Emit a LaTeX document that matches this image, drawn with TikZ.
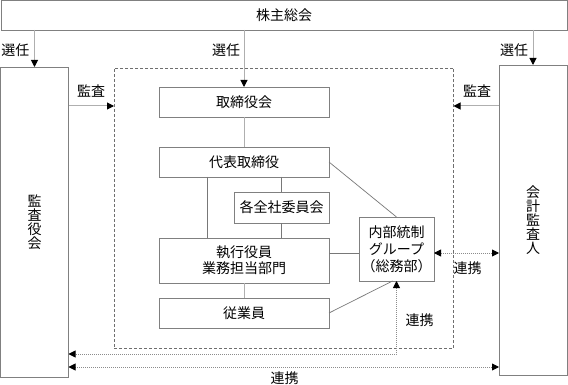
\documentclass[tikz,border=0pt]{standalone}
\usepackage{fontspec}
\setmainfont{Noto Sans CJK JP}
\usetikzlibrary{arrows.meta,calc}
\definecolor{boxgray}{RGB}{128,128,128}
\definecolor{lngray}{RGB}{120,120,120}
\definecolor{lightgray2}{RGB}{175,175,175}
\definecolor{dotgray}{RGB}{140,140,140}
\definecolor{dashgray}{RGB}{110,110,110}
\tikzset{
  box/.style={draw=boxgray, line width=0.9pt, fill=white, inner sep=0pt, outer sep=0pt, align=center, font=\fontsize{14}{18}\selectfont},
  lab/.style={inner sep=0pt, font=\fontsize{14}{16}\selectfont},
  ln/.style={draw=lngray, line width=0.7pt},
  lnl/.style={draw=lightgray2, line width=1pt},
  arr/.style={lnl, -{Triangle[length=7pt,width=7pt,black]}},
  dotl/.style={draw=dotgray, line width=0.9pt, dash pattern=on 1pt off 1pt, {Triangle[length=7pt,width=7pt,black]}-{Triangle[length=7pt,width=7pt,black]}},
  grpbox/.style={draw=dashgray, line width=0.6pt, dash pattern=on 3pt off 2pt, inner sep=0pt, outer sep=0pt}
}
\begin{document}
\begin{tikzpicture}[x=1pt,y=-1pt]
\useasboundingbox (0,0) rectangle (568,385);
\fill[white] (0,0) rectangle (568,385);
% group dashed box
\node[grpbox, minimum width=339.5pt, minimum height=280pt] (grp) at (283.75,208) {};
% boxes
\node[box, minimum width=566pt, minimum height=30pt] (top) at (284,15) {株主総会};
\node[box, minimum width=68pt, minimum height=310pt] (kansa) at (34.5,222) {監\\[-4pt]査\\[-4pt]役\\[-4pt]会};
\node[box, minimum width=68pt, minimum height=310pt] (kaikei) at (533,220) {会\\[-4pt]計\\[-4pt]監\\[-4pt]査\\[-4pt]人};
\node[box, minimum width=170pt, minimum height=30pt] (tori) at (244,102) {取締役会};
\node[box, minimum width=170pt, minimum height=30pt] (daihyo) at (244,162) {代表取締役};
\node[box, minimum width=95pt, minimum height=31pt] (kaku) at (281.5,207.5) {各全社委員会};
\node[box, minimum width=170pt, minimum height=45pt] (shikko) at (244,260.5) {執行役員\\[-2pt]業務担当部門};
\node[box, minimum width=170pt, minimum height=30pt] (jugyo) at (244,313) {従業員};
\node[box, minimum width=75pt, minimum height=64pt, font=\fontsize{14}{17}\selectfont] (naibu) at (396.5,249) {内部統制\\グループ\\（総務部）};
% coordinates
\coordinate (ya) at (0,106);
\coordinate (xv) at (207,0);
\coordinate (yb) at (0,354);
\coordinate (yc) at (0,367);
\coordinate (ynl) at ([yshift=-4pt]naibu.west);
\coordinate (yne) at ([yshift=-4pt]naibu.east);
% selection arrows
\draw[arr] (kansa.north |- top.south) -- (kansa.north);
\draw[arr] (tori.north |- top.south) -- (tori.north);
\draw[arr] (kaikei.north |- top.south) -- (kaikei.north);
% audit arrows
\draw[arr] (kansa.east |- ya) -- (grp.west |- ya);
\draw[arr] (kaikei.west |- ya) -- (grp.east |- ya);
% internal lines
\draw[lnl] (tori.south) -- (daihyo.north);
\draw[ln] (daihyo.south -| xv) -- (shikko.north -| xv);
\draw[ln] (daihyo.south -| kaku.north) -- (kaku.north);
\draw[ln] (kaku.south) -- (shikko.north -| kaku.south);
\draw[lnl] (shikko.south) -- (jugyo.north);
\draw[ln] (daihyo.east) -- (naibu.north);
\draw[ln] (ynl) -- (shikko.east |- ynl);
\draw[ln] (jugyo.east) -- ([xshift=-4pt]naibu.south);
% cooperation (dotted)
\draw[dotl] (yne) -- (kaikei.west |- yne);
\draw[dotl] (naibu.south) -- (naibu.south |- yb) -- (kansa.east |- yb);
\draw[dotl] (kansa.east |- yc) -- (kaikei.west |- yc);
% labels
\node[lab] (l1) at (15.5,50) {選任};
\node[lab] (l2) at (226,50) {選任};
\node[lab] (l3) at (514,50) {選任};
\node[lab] (l4) at (91,91) {監査};
\node[lab] (l5) at (477,91) {監査};
\node[lab] (l6) at (467.5,268) {連携};
\node[lab] (l7) at (419.5,320) {連携};
\node[lab] (l8) at (284.5,378) {連携};
\end{tikzpicture}
\end{document}
